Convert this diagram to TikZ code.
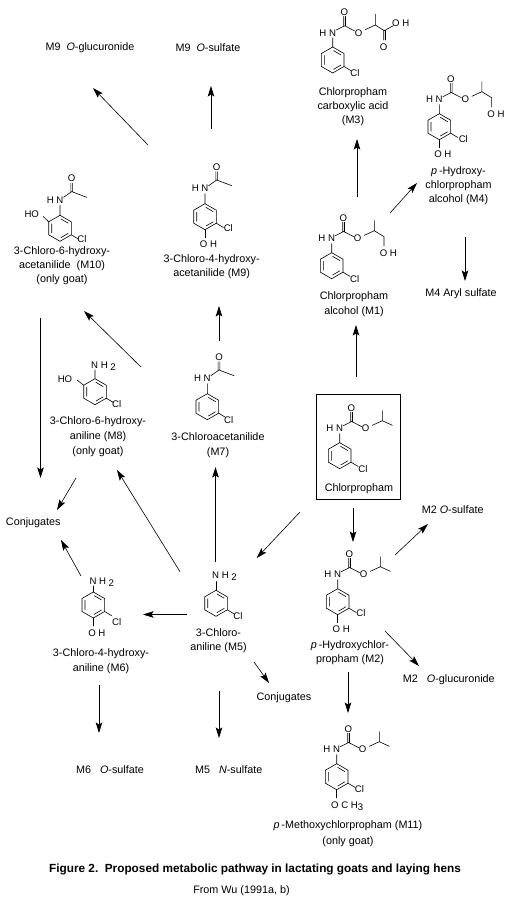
\documentclass[tikz,border=0pt]{standalone}
\usepackage{fontspec}
\setmainfont{Liberation Sans}
\usetikzlibrary{arrows.meta}
\newcommand\ringat[2]{%
  \begin{scope}[shift={(#1,#2)}]
    \draw[bond] (0,-13)--(11.3,-6.5)--(11.3,6.5)--(0,13)--(-11.3,6.5)--(-11.3,-6.5)--cycle;
    \draw[bond] (-8.3,-4.5)--(-8.3,4.5) (1,-9.3)--(8.2,-5.1) (1,9.3)--(8.2,5.1);
    \draw[bond] (11.3,6.5)--(18.5,10.8);
  \end{scope}}
\newcommand\cllabel[3]{\node[atom] (#1) at (#2,#3) {Cl};}
% carbamate in ring coordinates; #1 prefix
\newcommand\carb[1]{%
  \node[atom,anchor=east] (#1N) at (3.5,-27.3) {H N};
  \node[atom] (#1Oc) at (11.6,-48) {O};
  \node[atom] (#1Oe) at (26,-27.3) {O};
  \draw[bond] (0,-22)--(0,-13) (3.6,-30)--(12,-34.2)
    (11,-34.2)--(11,-43.5) (12.8,-34.2)--(12.8,-43.5)
    (12,-34.2)--(22,-29) (32.6,-30.4)--(42.6,-35);}
\newcommand\isopropyl{\draw[bond] (42.6,-35)--(42.6,-45) (42.6,-35)--(52.6,-30.4);}
\newcommand\alcohol[1]{%
  \draw[bond] (42.6,-35)--(42.6,-45) (42.6,-35)--(52.3,-29)--(52.3,-19.7);
  \node[atom] (#1OH) at (56.6,-12.4) {O H};}
\newcommand\acetyl[1]{%
  \node[atom,anchor=east] (#1N) at (3.5,-28.3) {H N};
  \node[atom] (#1Oc) at (11.7,-50) {O};
  \draw[bond] (0,-23)--(0,-13) (3.6,-31)--(11.7,-36.7)
    (10.8,-36.7)--(10.8,-45) (12.6,-36.7)--(12.6,-45)
    (11.7,-36.7)--(26.7,-31);}
\newcommand\ringOH[1]{%
  \draw[bond] (0,13)--(0,21);
  \node[atom] (#1OH) at (3.5,27.7) {O H};}
\newcommand\arrowline[5]{%
  \coordinate (#1a) at (#2,#3);
  \coordinate (#1b) at (#4,#5);
  \draw[arw] (#1a)--(#1b);}
\tikzset{
  bond/.style={line width=0.6pt,line cap=round},
  arw/.style={line width=0.6pt,-{Stealth[length=10.5pt,width=6.5pt,inset=2pt]}},
  atom/.style={inner sep=0pt,font=\fontsize{9.6}{11}\selectfont},
  lab/.style={inner sep=0pt,align=center,font=\fontsize{10.8}{12}\selectfont},
}
\newcommand\pit{\textit{p}\,}
\begin{document}
\begin{tikzpicture}[x=1pt,y=-1pt]
\useasboundingbox (0,0) rectangle (509,907);
% Chlorpropham
\node[draw,line width=0.8pt,minimum width=83.6pt,minimum height=105pt,inner sep=0pt] (box) at (358.5,446.8) {};
\ringat{339.7}{455.7}
\begin{scope}[shift={(339.7,455.7)}]\carb{c}\isopropyl\end{scope}
\cllabel{cCl}{363}{468.7}
\node[lab] (cname) at (359,488.3) {Chlorpropham};
% M2
\ringat{337.7}{601.7}
\begin{scope}[shift={(337.7,601.7)}]\carb{mb}\isopropyl\ringOH{mb}\end{scope}
\cllabel{mbCl}{361}{613.5}
\node[lab] (mbname) at (350,653) {\pit-Hydroxychlor-\\[2pt]propham (M2)};
% M11
\ringat{336.7}{776.7}
\begin{scope}[shift={(336.7,776.7)}]\carb{ml}\isopropyl
  \draw[bond] (0,13)--(0,21);
  \node[atom] (mlOMe) at (10.5,29) {O C H\raisebox{-2pt}{3}};
\end{scope}
\cllabel{mlCl}{359.5}{789.3}
\node[lab,align=center] (mlname) at (348,833.5) {\pit-Methoxychlorpropham (M11)\\[4pt](only goat)};
% M1
\ringat{331.7}{265.7}
\begin{scope}[shift={(331.7,265.7)}]\carb{ma}\alcohol{ma}\end{scope}
\cllabel{maCl}{354.7}{278.7}
\node[lab] (maname) at (354,304) {Chlorpropham\\[3pt]alcohol (M1)};
% M3
\ringat{332.7}{60}
\begin{scope}[shift={(332.7,60)}]\carb{mc}
  \draw[bond] (42.6,-35)--(42.6,-45.7) (42.6,-35)--(51.6,-29.3)
    (51,-29.3)--(51,-20) (52.8,-29.3)--(52.8,-20)
    (51.6,-29.3)--(60.6,-34.3);
  \node[atom] (mcOd) at (51,-13.3) {O};
  \node[atom] (mcOH) at (68,-37.3) {O H};
\end{scope}
\cllabel{mcCl}{355}{73.3}
\node[lab] (mcname) at (353,107) {Chlorpropham\\[2pt]carboxylic acid\\[2pt](M3)};
% M4
\ringat{439.3}{126.7}
\begin{scope}[shift={(439.3,126.7)}]\carb{md}\alcohol{md}\ringOH{md}\end{scope}
\cllabel{mdCl}{463.3}{138.7}
\node[lab] (mdname) at (458.5,185.7) {\pit-Hydroxy-\\[2pt]chlorpropham\\[2pt]alcohol (M4)};
\node[lab] (mdS) at (461,293.3) {M4 Aryl sulfate};
% M9
\ringat{205}{216.7}
\begin{scope}[shift={(205,216.7)}]\acetyl{mi}\ringOH{mi}\end{scope}
\cllabel{miCl}{228.3}{227.7}
\node[lab] (miname) at (211.7,267) {3-Chloro-4-hydroxy-\\[2pt]acetanilide (M9)};
\node[lab] (miGl) at (90,47.3) {M9\ \ \textit{O}-glucuronide};
\node[lab] (miS) at (208,47.3) {M9\ \ \textit{O}-sulfate};
% M10
\ringat{60}{228.3}
\begin{scope}[shift={(60,228.3)}]\acetyl{mj}
  \draw[bond] (-11.3,-6.5)--(-17,-12);
  \node[atom] (mjHO) at (-28.3,-14) {HO};
\end{scope}
\cllabel{mjCl}{82}{239.3}
\node[lab] (mjname) at (62,266) {3-Chloro-6-hydroxy-\\[2pt]acetanilide\ \ (M10)\\[2pt](only goat)};
% M7
\ringat{207.3}{406.7}
\begin{scope}[shift={(207.3,406.7)}]\acetyl{mg}\end{scope}
\cllabel{mgCl}{228.7}{420}
\node[lab] (mgname) at (218,444.8) {3-Chloroacetanilide\\[3pt](M7)};
% M8
\ringat{95}{391.7}
\begin{scope}[shift={(95,391.7)}]
  \draw[bond] (0,-13)--(0,-21.7) (-11.3,-6.5)--(-18,-11.7);
  \node[atom,anchor=west] (mhN) at (-4,-25.7) {N H \raisebox{-2pt}{2}};
  \node[atom] (mhHO) at (-30,-12.7) {HO};
\end{scope}
\cllabel{mhCl}{116.7}{404.3}
\node[lab] (mhname) at (98,437) {3-Chloro-6-hydroxy-\\[3pt]aniline (M8)\\[3pt](only goat)};
% M5
\ringat{216}{603.3}
\begin{scope}[shift={(216,603.3)}]
  \draw[bond] (0,-13)--(0,-21.7);
  \node[atom,anchor=west] (meN) at (-4,-26.7) {N H \raisebox{-2pt}{2}};
\end{scope}
\cllabel{meCl}{238}{616}
\node[lab] (mename) at (218.5,641) {3-Chloro-\\[2pt]aniline (M5)};
% M6
\ringat{93.3}{605}
\begin{scope}[shift={(93.3,605)}]
  \draw[bond] (0,-13)--(0,-19);
  \node[atom,anchor=west] (mfN) at (-4,-23.3) {N H \raisebox{-2pt}{2}};
  \ringOH{mf}
\end{scope}
\cllabel{mfCl}{116.7}{621.7}
\node[lab] (mfname) at (101,661.3) {3-Chloro-4-hydroxy-\\[3pt]aniline (M6)};
% other labels
\node[lab] (conjA) at (33.3,522.3) {Conjugates};
\node[lab] (conjB) at (284,698) {Conjugates};
\node[lab] (mfS) at (110,770) {M6\ \ \ \textit{O}-sulfate};
\node[lab] (meS) at (228.7,769.3) {M5\ \ \ \textit{N}-sulfate};
\node[lab] (mbS) at (452.7,510) {M2 \textit{O}-sulfate};
\node[lab,anchor=west] (mbGl) at (402.7,680) {M2\ \ \ \textit{O}-glucuronide};
\node[lab,font=\fontsize{11.8}{13}\selectfont\bfseries] (cap) at (255,869) {Figure 2.\ \ Proposed metabolic pathway in lactating goats and laying hens};
\node[lab,font=\fontsize{10.8}{12}\selectfont] (from) at (241.5,890.5) {From Wu (1991a, b)};
% arrows
\arrowline{g1}{148}{145}{93}{88}
\arrowline{g2}{211}{129}{211}{86}
\arrowline{g3}{219}{341}{219}{306}
\arrowline{g4}{141}{367}{84}{311}
\arrowline{g5}{40.5}{318}{40.5}{478}
\arrowline{g6}{76}{478}{57}{510}
\arrowline{g7}{180}{571.7}{117}{470}
\arrowline{g8}{215.5}{562}{215.5}{467}
\arrowline{g9}{300}{512}{256.7}{558}
\arrowline{g10}{187}{614.5}{143}{614.5}
\arrowline{g11}{81}{576}{61}{540}
\arrowline{g12}{99}{685}{99}{733}
\arrowline{g13}{219}{691}{219}{738}
\arrowline{g14}{254}{662}{269}{683}
\arrowline{g15}{356}{377}{356}{325}
\arrowline{g16}{357}{197}{357}{139}
\arrowline{g17}{390}{213}{417}{183}
\arrowline{g18}{465}{237}{465}{281}
\arrowline{g19}{353}{508}{353}{542}
\arrowline{g20}{395}{555}{428}{524}
\arrowline{g21}{385}{631}{419}{666}
\arrowline{g22}{348}{672}{348}{713}
\end{tikzpicture}
\end{document}
